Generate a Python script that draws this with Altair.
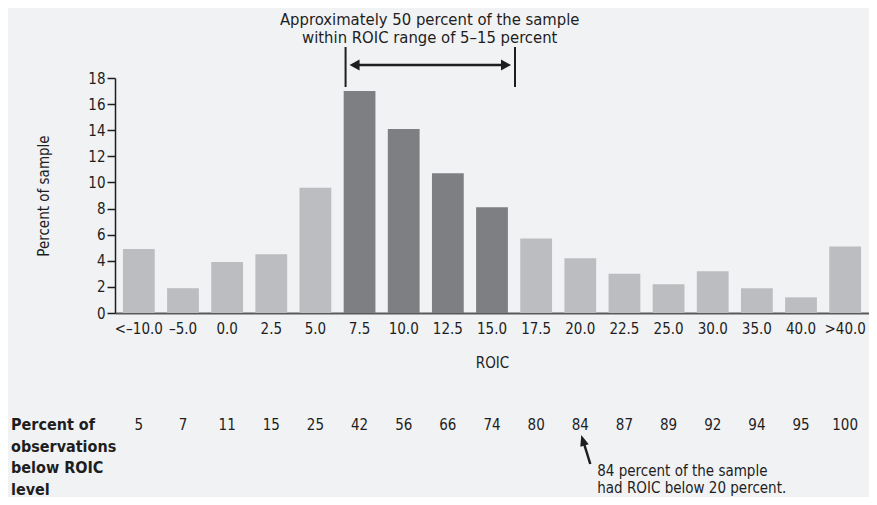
import altair as alt
import pandas as pd

# ---------------- data ----------------
roic_labels = ["<–10.0", "–5.0", "0.0", "2.5", "5.0", "7.5", "10.0", "12.5", "15.0",
               "17.5", "20.0", "22.5", "25.0", "30.0", "35.0", "40.0", ">40.0"]
percent_of_sample = [4.9, 1.9, 3.9, 4.5, 9.6, 17.0, 14.1, 10.7, 8.1,
                     5.7, 4.2, 3.0, 2.2, 3.2, 1.9, 1.2, 5.1]
cumulative_below = [5, 7, 11, 15, 25, 42, 56, 66, 74, 80, 84, 87, 89, 92, 94, 95, 100]
highlight_labels = ["7.5", "10.0", "12.5", "15.0"]
range_note = ["Approximately 50 percent of the sample", "within ROIC range of 5–15 percent"]
cum_note = ["84 percent of the sample", "had ROIC below 20 percent."]
row_label = ["Percent of", "observations", "below ROIC", "level"]
y_ticks = [0, 2, 4, 6, 8, 10, 12, 14, 16, 18]

# ---------------- style ----------------
FONT = "DejaVu Sans Condensed, Liberation Sans Narrow, Liberation Sans, sans-serif"
INK = "#1e1e1e"
BG = "#f1f2f4"
DARK = "#7e7f83"
LIGHT = "#bcbdc0"
W, H = 754, 235

df = pd.DataFrame({
    "roic": roic_labels,
    "pct": percent_of_sample,
    "cum": [str(c) for c in cumulative_below],
    "group": ["in" if r in highlight_labels else "out" for r in roic_labels],
})

xscale = alt.Scale(domain=roic_labels, paddingInner=0.28, paddingOuter=0.18)
yscale = alt.Scale(domain=[0, 18], nice=False, zero=True)

xaxis = alt.Axis(labelAngle=0, ticks=False, tickSize=0, labelPadding=15,
                 labelBaseline="middle", labelFontSize=15, labelColor=INK,
                 labelOverlap=False, domainColor="#58595b", domainWidth=2,
                 titleFontSize=15, titleFontWeight="normal", titleColor=INK,
                 titleX=W / 2, titleY=49, titleBaseline="middle", titleAlign="center")


def xpos(field="roic"):
    return alt.X(f"{field}:N", scale=xscale, sort=roic_labels, title="ROIC", axis=xaxis)


bars = alt.Chart(df).mark_bar().encode(
    x=xpos(),
    y=alt.Y("pct:Q", scale=yscale, title="Percent of sample",
            axis=alt.Axis(values=y_ticks, tickSize=8, tickColor=INK, tickWidth=1.5,
                          domainColor=INK, domainWidth=1.5, labelPadding=2, labelFontSize=15,
                          labelColor=INK, grid=False, titleFontSize=15, titleFontWeight="normal",
                          titleColor=INK, titleX=-72, titleY=H / 2, titleAngle=270,
                          titleBaseline="middle", titleAlign="center")),
    color=alt.Color("group:N", scale=alt.Scale(domain=["in", "out"], range=[DARK, LIGHT]),
                    legend=None),
)

# cumulative row under the axis
cum_row = alt.Chart(df).mark_text(fontSize=15, color=INK, baseline="alphabetic",
                                  align="center").encode(
    x=xpos(), y=alt.value(352), text="cum:N")

row_df = pd.DataFrame({"label": ["\n".join(row_label)]})
row_text = alt.Chart(row_df).mark_text(fontSize=16, fontWeight="bold", color=INK, align="left",
                                       baseline="alphabetic", lineBreak="\n",
                                       lineHeight=21.5).encode(
    x=alt.value(-104), y=alt.value(352), text="label:N")

# range annotation (5–15 percent)
span_df = pd.DataFrame({"roic": ["7.5"], "end": ["15.0"], "mid": ["10.0"],
                        "note": ["\n".join(range_note)]})
span_base = alt.Chart(span_df)
left_line = span_base.mark_rule(color=INK, strokeWidth=2, xOffset=-14).encode(
    x=xpos("roic"), y=alt.value(-31), y2=alt.value(9))
right_line = span_base.mark_rule(color=INK, strokeWidth=2, xOffset=23).encode(
    x=xpos("end"), y=alt.value(-31), y2=alt.value(9))
shaft = span_base.mark_rule(color=INK, strokeWidth=2.5, xOffset=-6, x2Offset=10).encode(
    x=xpos("roic"), x2=alt.X2("end:N"), y=alt.value(-13))
left_head = span_base.mark_point(shape="M-1,0L1,-1.1L1,1.1Z", size=100, filled=True, color=INK,
                                 opacity=1, strokeWidth=0, xOffset=-5).encode(
    x=xpos("roic"), y=alt.value(-13))
right_head = span_base.mark_point(shape="M1,0L-1,-1.1L-1,1.1Z", size=100, filled=True, color=INK,
                                  opacity=1, strokeWidth=0, xOffset=14).encode(
    x=xpos("end"), y=alt.value(-13))
span_text = span_base.mark_text(fontSize=16.5, color=INK, align="center", baseline="alphabetic",
                                lineBreak="\n", lineHeight=18, dx=26).encode(
    x=xpos("mid"), y=alt.value(-53.5), text="note:N")

# 84 percent annotation
n84_df = pd.DataFrame({"roic": ["20.0"], "note": ["\n".join(cum_note)]})
n84_base = alt.Chart(n84_df)
n84_shaft = n84_base.mark_rule(color=INK, strokeWidth=2.5, xOffset=2.6, x2Offset=10).encode(
    x=xpos(), x2=alt.X2("roic:N"), y=alt.value(362), y2=alt.value(386))
n84_head = n84_base.mark_point(shape="M0,-1L0.8,1L-0.8,1Z", size=121, angle=343, filled=True,
                               color=INK, opacity=1, strokeWidth=0, xOffset=2.6).encode(
    x=xpos(), y=alt.value(362.3))
n84_text = n84_base.mark_text(fontSize=15, color=INK, align="left", baseline="alphabetic",
                              lineBreak="\n", lineHeight=17, dx=17).encode(
    x=xpos(), y=alt.value(398), text="note:N")

chart = alt.layer(
    bars, cum_row, row_text, left_line, right_line, shaft, left_head, right_head, span_text,
    n84_shaft, n84_head, n84_text,
).properties(
    width=W, height=H, background=BG,
    padding={"left": 107, "top": 70, "right": 0, "bottom": 184},
    autosize=alt.AutoSizeParams(type="none"),
).configure(font=FONT).configure_view(stroke=None)

chart.save("out.html", embed_options={"renderer": "svg", "actions": False})
